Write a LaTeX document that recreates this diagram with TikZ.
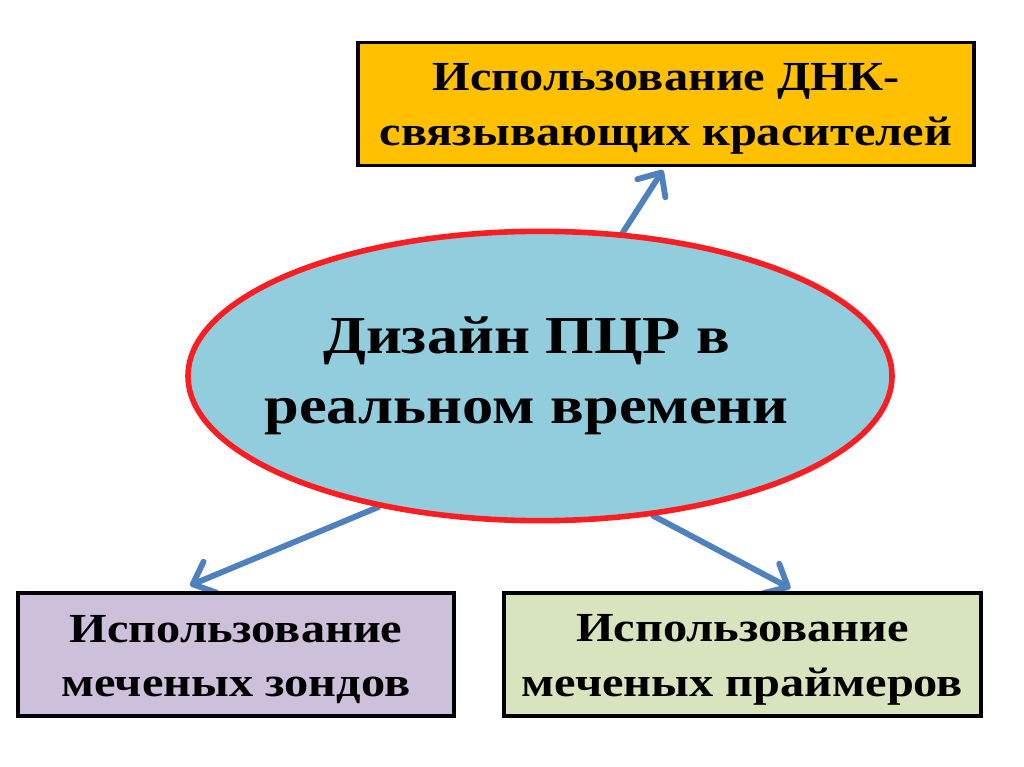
\documentclass[tikz,border=0pt]{standalone}
\usepackage{fontspec}
\setmainfont{Liberation Serif}[FakeStretch=1.17]
\usetikzlibrary{arrows.meta,calc,shapes.geometric,backgrounds}
\definecolor{boxY}{RGB}{255,192,0}
\definecolor{boxV}{RGB}{204,192,218}
\definecolor{boxG}{RGB}{215,228,189}
\definecolor{ellF}{RGB}{146,205,221}
\definecolor{ellR}{RGB}{250,30,35}
\definecolor{arrB}{RGB}{79,129,189}
\tikzset{
  mbox/.style={rectangle,draw=black,line width=2.6pt,align=center,minimum height=92pt,
    inner sep=0pt,font=\fontsize{31}{41}\selectfont\bfseries},
  core/.style={ellipse,draw=ellR,fill=ellF,line width=4.2pt,align=center,inner ysep=0pt,
    inner xsep=-40pt,minimum width=528pt,minimum height=217pt,
    font=\fontsize{40}{52.5}\selectfont\bfseries},
  arr/.style={-{Straight Barb[length=14pt,width=25pt,line cap=round,line join=round]},
    line width=4.4pt,draw=arrB,line cap=round},
}
\newcommand{\lift}{\rule{0pt}{28pt}}

\begin{document}
\begin{tikzpicture}[x=0.75pt,y=-0.75pt]
\useasboundingbox (0,0) rectangle (1024,767);
% centre
\node[core] (pcr) at (540,376) {Дизайн ПЦР в\hspace*{20pt}\\реальном времени\hspace*{20pt}};
% three ways
\node[mbox,fill=boxY,minimum width=462pt] (dyes) at (666,104) {\lift Использование ДНК-\\связывающих красителей};
\node[mbox,fill=boxV,minimum width=327pt] (probes) at (236,654.5) {\lift Использование\\меченых зондов};
\node[mbox,fill=boxG,minimum width=358pt] (primers) at (742.5,654.5) {\lift Использование\\меченых праймеров};
\begin{scope}[on background layer]
  \draw[arr] (pcr.60) -- ($(dyes.south)+(-3,3)$);
  \draw[arr] (pcr.219) -- ($(probes.north)+(-46,-6)$);
  \draw[arr] (pcr.309) -- ($(primers.north)+(48,-3)$);
\end{scope}
\end{tikzpicture}
\end{document}
